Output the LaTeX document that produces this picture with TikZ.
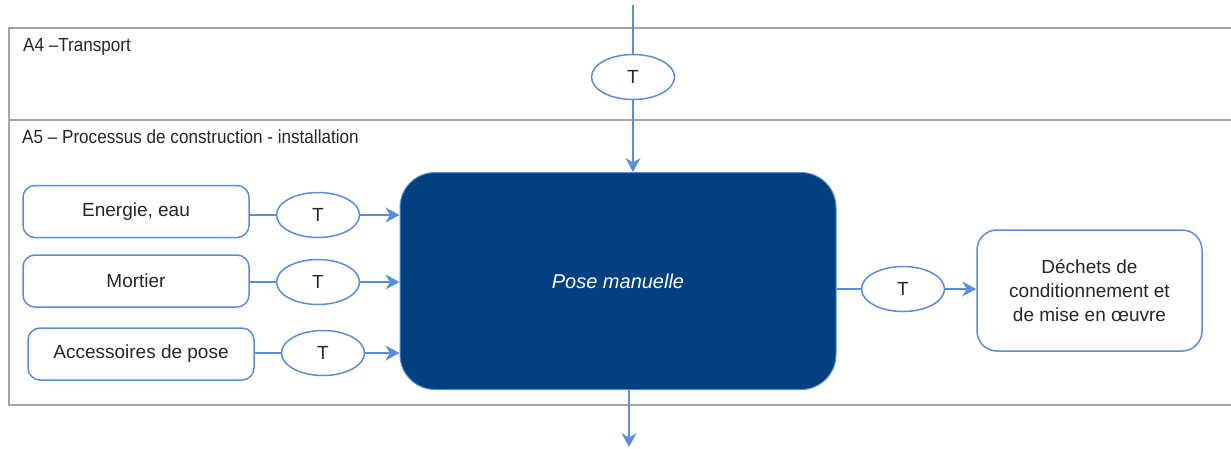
\documentclass[tikz,border=0pt]{standalone}
\usepackage{fontspec}
\setmainfont{Liberation Sans}
\newfontfamily\titrefont[FakeStretch=0.9]{Liberation Sans}
\usetikzlibrary{shapes,arrows.meta,positioning}
\definecolor{lienbleu}{HTML}{5A8ED6}
\definecolor{posefond}{HTML}{03407F}
\definecolor{cadregris}{HTML}{A6A6A6}
\definecolor{textegris}{HTML}{262626}

\begin{document}
\begin{tikzpicture}[x=1pt,y=-1pt]
	\tikzset{every node/.style={font=\fontsize{19}{24}\selectfont,text=textegris}}
	\tikzset{titre/.style={anchor=base west,inner sep=0pt,font=\fontsize{19}{24}\selectfont\titrefont}}
	\tikzset{flux/.style={draw=lienbleu,line width=1.5pt,rounded corners=12pt,align=center,minimum width=226pt,minimum height=52pt}}
	\tikzset{transp/.style={ellipse,draw=lienbleu,line width=1.5pt,minimum width=83pt,minimum height=45pt,inner sep=0pt}}
	\tikzset{lien/.style={draw=lienbleu,line width=1.5pt}}
	\tikzset{fleche/.style={lien,-{Stealth[length=14pt,width=15pt,inset=4.5pt]}}}
	\useasboundingbox (0,0) rectangle (1231,448);
	% cadres A4 / A5
	\draw[cadregris,line width=2pt] (1231,28) -- (9,28) -- (9,405) -- (1231,405);
	\draw[cadregris,line width=2pt] (9,120) -- (1231,120);
	\node[titre] (titreA4) at (23,51) {A4 –Transport};
	\node[titre] (titreA5) at (22,143) {A5 – Processus de construction - installation};
	% processus
	\node[fill=posefond,draw=lienbleu,line width=1pt,rounded corners=35pt,minimum width=436pt,minimum height=217pt,text=white,font=\fontsize{20}{24}\selectfont\itshape] (pose) at (618,281) {Pose manuelle};
	\node[flux] (energie) at (136,211.5) {Energie, eau};
	\node[flux] (mortier) at (136,281) {Mortier};
	\node[flux] (accessoires) at (141,354) {Accessoires de pose};
	\node[flux,minimum width=225pt,minimum height=121pt,rounded corners=20pt] (dechets) at (1089.5,290.5) {Déchets de\\conditionnement et\\de mise en œuvre};
	% transports
	\node[transp] (tA4) at (633,77) {T};
	\node[transp] (tEnergie) at (318,215) {T};
	\node[transp] (tMortier) at (318,282) {T};
	\node[transp] (tAccessoires) at (323,353) {T};
	\node[transp] (tDechets) at (903,289) {T};
	\coordinate (entree) at (633,5);
	\coordinate (sortie) at (629,447);
	% liaisons
	\draw[lien] (entree) -- (tA4.north);
	\draw[fleche] (tA4.south) -- (tA4.south |- pose.north);
	\draw[fleche] (sortie |- pose.south) -- (sortie);
	\foreach \src/\t in {energie/tEnergie,mortier/tMortier,accessoires/tAccessoires}{
		\draw[lien] (\src.east |- \t) -- (\t.west);
		\draw[fleche] (\t.east) -- (\t -| pose.west);
	}
	\draw[lien] (pose.east |- tDechets) -- (tDechets.west);
	\draw[fleche] (tDechets.east) -- (tDechets -| dechets.west);
\end{tikzpicture}
\end{document}
